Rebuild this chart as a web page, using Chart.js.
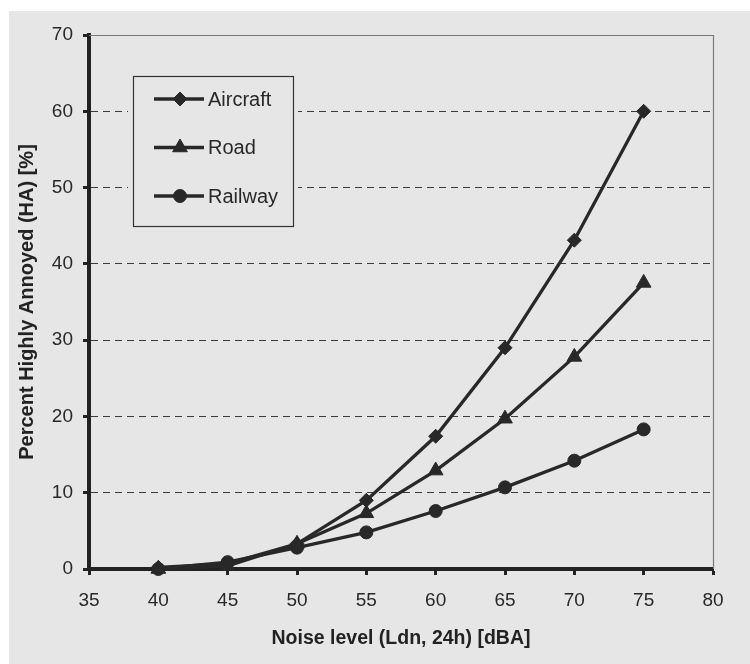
<!DOCTYPE html>
<html>
<head>
<meta charset="utf-8">
<script src="https://cdn.jsdelivr.net/npm/chart.js@4.4.1/dist/chart.umd.min.js"></script>
<style>
  html, body { margin: 0; padding: 0; background: #ffffff; }
  #wrap { width: 750px; height: 664px; }
  canvas { display: block; }
</style>
</head>
<body>
<div id="wrap"><canvas id="c" width="750" height="664"></canvas></div>
<script>
// ---- data ----
const noiseLevels = [40, 45, 50, 55, 60, 65, 70, 75];
const aircraftHA  = [0.2, 0.7, 3.3, 9.0, 17.4, 29.0, 43.1, 60.0];
const roadHA      = [0.0, 0.4, 3.3, 7.3, 12.9, 19.7, 27.8, 37.5];
const railwayHA   = [0.0, 0.9, 2.8, 4.8, 7.6, 10.7, 14.2, 18.3];
const seriesNames = ['Aircraft', 'Road', 'Railway'];
const xTitle = 'Noise level (Ldn, 24h) [dBA]';
const yTitle = 'Percent Highly Annoyed (HA) [%]';

const BG = '#e6e6e6';
const INK = '#282828';
const FONT = "'Liberation Sans', Arial, sans-serif";

const toPoints = vals => noiseLevels.map((x, i) => ({ x: x, y: vals[i] }));

const styles = [
  { pointStyle: 'rectRot', radius: 7 },
  { pointStyle: 'triangle', radius: 8.5 },
  { pointStyle: 'circle', radius: 6.5 }
];
const seriesVals = [aircraftHA, roadHA, railwayHA];

const datasets = seriesNames.map((name, i) => ({
  label: name,
  data: toPoints(seriesVals[i]),
  borderColor: INK,
  backgroundColor: INK,
  borderWidth: 3.3,
  pointStyle: styles[i].pointStyle,
  pointRadius: styles[i].radius,
  pointBorderWidth: 1,
  pointBorderColor: INK,
  pointBackgroundColor: INK,
  tension: 0,
  clip: false
}));

const bgPlugin = {
  id: 'bg',
  beforeDraw(chart) {
    const ctx = chart.ctx;
    ctx.save();
    ctx.fillStyle = '#ffffff';
    ctx.fillRect(0, 0, chart.width, chart.height);
    ctx.fillStyle = BG;
    ctx.fillRect(9, 11, chart.width - 9, chart.height - 11);
    ctx.restore();
  }
};

const framePlugin = {
  id: 'frame',
  beforeDatasetsDraw(chart) {
    const a = chart.chartArea;
    const ctx = chart.ctx;
    ctx.save();
    ctx.strokeStyle = '#7a7a7a';
    ctx.lineWidth = 1.2;
    ctx.beginPath();
    ctx.moveTo(a.left, a.top + 0.5);
    ctx.lineTo(a.right + 0.5, a.top + 0.5);
    ctx.lineTo(a.right + 0.5, a.bottom);
    ctx.stroke();
    ctx.restore();
  }
};

const legendPlugin = {
  id: 'boxLegend',
  afterDatasetsDraw(chart) {
    const a = chart.chartArea;
    const ctx = chart.ctx;
    const bx = a.left + 44, by = a.top + 41, bw = 160, bh = 150;
    ctx.save();
    ctx.fillStyle = BG;
    ctx.fillRect(bx - 5, by - 4, bw + 10, bh + 8);
    ctx.strokeStyle = '#333';
    ctx.lineWidth = 1.2;
    ctx.strokeRect(bx + 0.5, by + 0.5, bw, bh);
    chart.data.datasets.forEach((ds, i) => {
      const y = by + 23 + i * 48.5;
      ctx.strokeStyle = INK;
      ctx.lineWidth = 3.3;
      ctx.beginPath();
      ctx.moveTo(bx + 21, y);
      ctx.lineTo(bx + 71, y);
      ctx.stroke();
      ctx.fillStyle = INK;
      ctx.strokeStyle = INK;
      ctx.lineWidth = 1;
      Chart.helpers.drawPoint(ctx, { pointStyle: ds.pointStyle, radius: ds.pointRadius, rotation: 0, borderWidth: 1 }, bx + 47, y);
      ctx.fillStyle = INK;
      ctx.font = '20px ' + FONT;
      ctx.textAlign = 'left';
      ctx.textBaseline = 'middle';
      ctx.fillText(ds.label, bx + 75, y + 1);
    });
    ctx.restore();
  }
};

new Chart(document.getElementById('c'), {
  type: 'line',
  data: { datasets: datasets },
  plugins: [bgPlugin, framePlugin, legendPlugin],
  options: {
    responsive: false,
    animation: false,
    devicePixelRatio: 1,
    layout: { padding: { left: 0, top: 35, right: 37, bottom: 0 } },
    plugins: { legend: { display: false }, tooltip: { enabled: false } },
    scales: {
      x: {
        type: 'linear',
        min: 35, max: 80,
        ticks: { stepSize: 5, color: INK, font: { family: FONT, size: 19 }, padding: 14, maxRotation: 0 },
        grid: { drawOnChartArea: false, drawTicks: true, tickLength: 6, tickColor: '#222', tickWidth: 3 },
        border: { display: true, color: '#222', width: 4 },
        title: { display: true, text: xTitle, color: '#222', font: { family: FONT, size: 19.5, weight: 'bold' }, padding: { top: 0, bottom: 14 } },
        afterFit(s) { s.height = 95; }
      },
      y: {
        min: 0, max: 70,
        ticks: { stepSize: 10, color: INK, font: { family: FONT, size: 19 }, padding: 10 },
        grid: {
          color: c => (c.tick && (c.tick.value === 0 || c.tick.value === 70)) ? 'rgba(0,0,0,0)' : '#3a3a3a',
          lineWidth: 1,
          drawTicks: true, tickLength: 6, tickColor: '#222', tickWidth: 3, tickBorderDash: []
        },
        border: { display: true, color: '#222', width: 4, dash: [7, 5] },
        title: { display: true, text: yTitle, color: '#222', font: { family: FONT, size: 20, weight: 'bold' }, padding: { top: 15, bottom: 0 } },
        afterFit(s) { s.width = 89; }
      }
    }
  }
});
</script>
</body>
</html>
